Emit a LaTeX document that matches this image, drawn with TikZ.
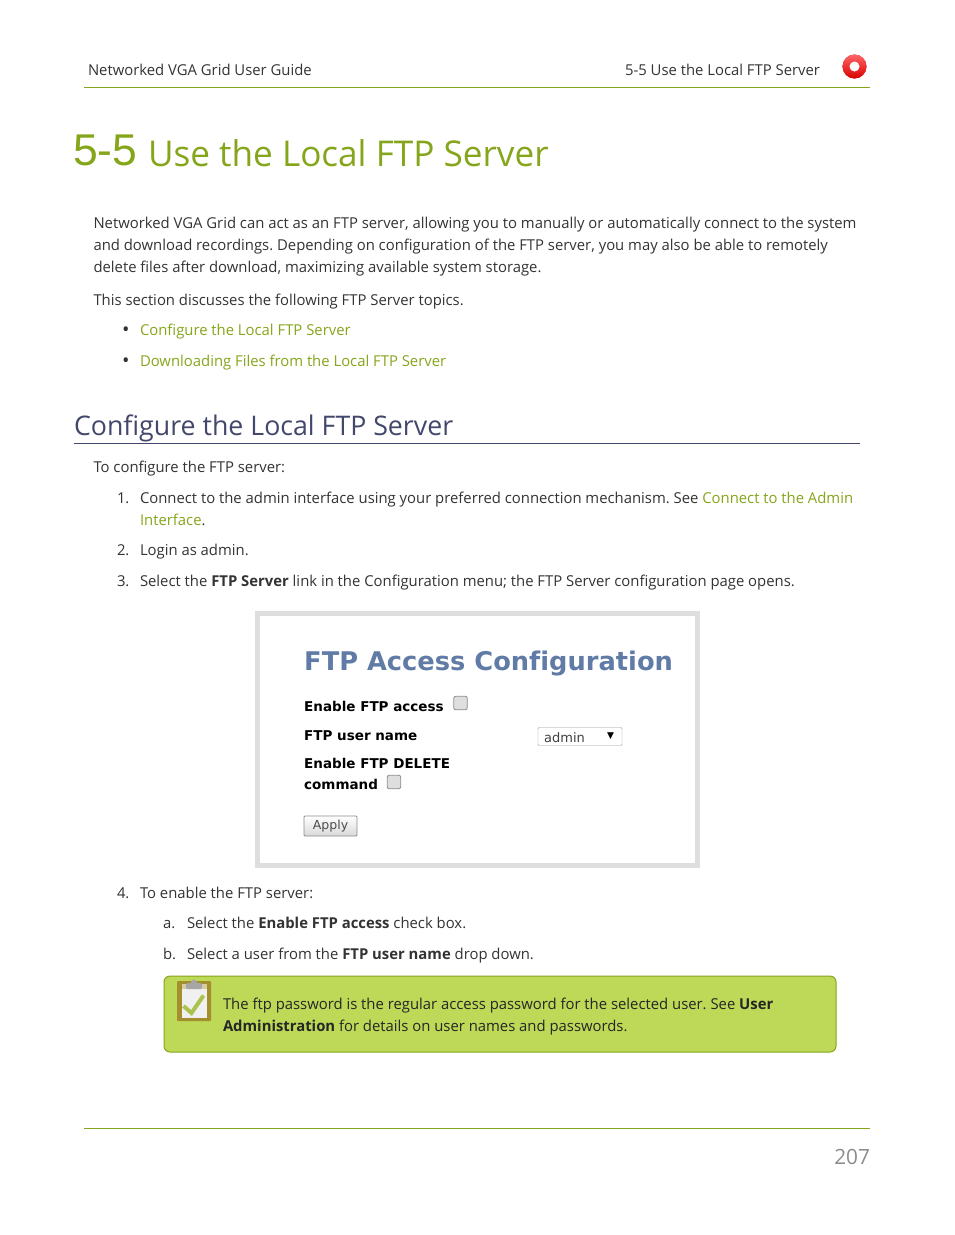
\documentclass[tikz,border=0pt]{standalone}
\usepackage{fontspec}
\setmainfont{Open Sans}[FakeStretch=0.99]
\newfontfamily\titlefont{Liberation Sans}
\newfontfamily\shotfont{DejaVu Sans}[Ligatures=NoCommon]
\definecolor{guidegreen}{HTML}{85A51B}
\definecolor{guideink}{HTML}{333333}
\definecolor{guideslate}{HTML}{43476B}
\definecolor{shotblue}{HTML}{5F7BA6}
\definecolor{shotgrey}{HTML}{DEDEDE}
\definecolor{notegreen}{HTML}{BDD957}
\definecolor{boardtan}{HTML}{A48F2E}
\tikzset{
  line/.style={anchor=base west, inner sep=0pt, outer sep=0pt, text=guideink, font=\fontsize{15}{15}\selectfont},
  shotlabel/.style={anchor=base west, inner sep=0pt, text=black, font=\shotfont\bfseries\fontsize{13.5}{13}\selectfont},
  tickbox/.style={draw=black!45, fill=black!13, rounded corners=2pt, line width=0.8pt, minimum width=13.5pt, minimum height=13.5pt, inner sep=0pt}
}
\begin{document}
\frenchspacing
\begin{tikzpicture}[x=1pt,y=-1pt]
    \useasboundingbox (0,0) rectangle (954,1235);

    % Header
    \node[line] (guide) at (88,75) {Networked VGA Grid User Guide};
    \node[line, anchor=base east] (topic) at (820,75) {5-5 Use the Local FTP Server};
    \node[circle, fill=red!85!black, top color=red!60!white, bottom color=red!85!black, minimum size=24pt, inner sep=0pt] (badge) at (854.5,66.5) {};
    \node[circle, fill=white, minimum size=10pt, inner sep=0pt] (badgehole) at (854.5,66.5) {};
    \coordinate (headl) at (84,87.5);
    \coordinate (headr) at (870,87.5);
    \draw[guidegreen, line width=1pt] (headl) -- (headr);

    % Title
    \node[line, text=guidegreen, font=\titlefont\fontsize{44.5}{45}\selectfont] (chapter) at (73,165.5) {5-5};
    \node[line, text=guidegreen, font=\fontsize{35.5}{36}\selectfont] (title) at (148,166) {Use the Local FTP Server};

    % Intro
    \node[line] (introa) at (93.5,228) {Networked VGA Grid can act as an FTP server, allowing you to manually or automatically connect to the system};
    \node[line] (introb) at (93.5,250) {and download recordings. Depending on configuration of the FTP server, you may also be able to remotely};
    \node[line] (introc) at (93.5,272) {delete files after download, maximizing available system storage.};
    \node[line] (introd) at (93.5,305) {This section discusses the following FTP Server topics.};
    \node[line, font=\fontsize{20}{20}\selectfont] (dota) at (122,336) {\textbullet};
    \node[line, text=guidegreen] (linka) at (140,335) {Configure the Local FTP Server};
    \node[line, font=\fontsize{20}{20}\selectfont] (dotb) at (122,367) {\textbullet};
    \node[line, text=guidegreen] (linkb) at (140,366) {Downloading Files from the Local FTP Server};

    % Section
    \node[line, text=guideslate, font=\fontsize{27}{27}\selectfont] (section) at (74,435) {Configure the Local FTP Server};
    \coordinate (secl) at (74,443.5);
    \coordinate (secr) at (860,443.5);
    \draw[guideslate, line width=0.8pt] (secl) -- (secr);

    % Steps
    \node[line] (lead) at (93.5,472) {To configure the FTP server:};
    \node[line] (numa) at (117,503) {1.};
    \node[line] (stepa) at (140,503) {Connect to the admin interface using your preferred connection mechanism. See \textcolor{guidegreen}{Connect to the Admin}};
    \node[line, text=guidegreen] (stepaa) at (140,525) {Interface\textcolor{guideink}{.}};
    \node[line] (numb) at (117,555) {2.};
    \node[line] (stepb) at (140,555) {Login as admin.};
    \node[line] (numc) at (117,586) {3.};
    \node[line] (stepc) at (140,586) {Select the \textbf{FTP Server} link in the Configuration menu; the FTP Server configuration page opens.};

    % Screenshot
    \node[draw=shotgrey, line width=5pt, minimum width=440pt, minimum height=252pt, inner sep=0pt] (shot) at (477.5,739) {};
    \node[shotlabel, text=shotblue, font=\shotfont\bfseries\fontsize{25.7}{26}\selectfont] (shottitle) at (304,670) {FTP Access Configuration};
    \node[shotlabel] (shota) at (304,711) {Enable FTP access};
    \node[tickbox] (ticka) at (460.5,703) {};
    \node[shotlabel] (shotb) at (304,740) {FTP user name};
    \node[draw=black!40, fill=white, rounded corners=1pt, minimum width=84pt, minimum height=18pt, inner sep=0pt] (dropdown) at (580,736.5) {};
    \node[anchor=base west, inner sep=0pt, text=black!75, font=\shotfont\fontsize{13}{13}\selectfont] (dropname) at (544,742) {admin};
    \node[anchor=center, inner sep=0pt, text=black, font=\shotfont\fontsize{9}{9}\selectfont] (droparrow) at (610.5,736) {▼};
    \node[shotlabel] (shotc) at (304,768) {Enable FTP DELETE};
    \node[shotlabel] (shotd) at (304,789) {command};
    \node[tickbox] (tickb) at (394,782) {};
    \node[draw=black!45, top color=white, bottom color=black!15, rounded corners=1pt, line width=0.8pt, minimum width=53pt, minimum height=20pt, inner sep=0pt, text=black!70, font=\shotfont\fontsize{12.5}{13}\selectfont] (apply) at (330.5,826) {Apply};

    % Sub steps
    \node[line] (numd) at (117,898) {4.};
    \node[line] (stepd) at (140,898) {To enable the FTP server:};
    \node[line] (nume) at (163,928) {a.};
    \node[line] (stepe) at (187,928) {Select the \textbf{Enable FTP access} check box.};
    \node[line] (numf) at (163,959) {b.};
    \node[line] (stepf) at (187,959) {Select a user from the \textbf{FTP user name} drop down.};

    % Note
    \node[draw=guidegreen, fill=notegreen, rounded corners=6pt, line width=1pt, minimum width=672pt, minimum height=76pt, inner sep=0pt] (note) at (500,1014) {};
    \node[fill=boardtan, rounded corners=1pt, minimum width=34pt, minimum height=40pt, inner sep=0pt] (board) at (194,1001) {};
    \node[fill=boardtan!45!white, minimum width=25pt, minimum height=5pt, inner sep=0pt] (strip) at (194,986) {};
    \node[fill=black!6, minimum width=25pt, minimum height=29pt, inner sep=0pt] (paper) at (194,1003) {};
    \node[fill=black!35, rounded corners=1.5pt, minimum width=16pt, minimum height=6pt, inner sep=0pt] (clip) at (194,986) {};
    \node[circle, fill=black!35, minimum size=6pt, inner sep=0pt] (clipring) at (194,982.5) {};
    \coordinate (ticks) at (183.5,1006);
    \coordinate (tickm) at (191.5,1013);
    \coordinate (ticke) at (203.5,995.5);
    \draw[notegreen!90!black, line width=4pt] (ticks) -- (tickm) -- (ticke);
    \node[line, text=black!85] (notea) at (223,1009) {The ftp password is the regular access password for the selected user. See \textbf{User}};
    \node[line, text=black!85] (noteb) at (223,1031) {\textbf{Administration} for details on user names and passwords.};

    % Footer
    \coordinate (footl) at (84,1128.5);
    \coordinate (footr) at (870,1128.5);
    \draw[guidegreen, line width=1pt] (footl) -- (footr);
    \node[line, anchor=base east, text=black!45, font=\fontsize{21}{21}\selectfont] (page) at (870,1164) {207};
\end{tikzpicture}
\end{document}
